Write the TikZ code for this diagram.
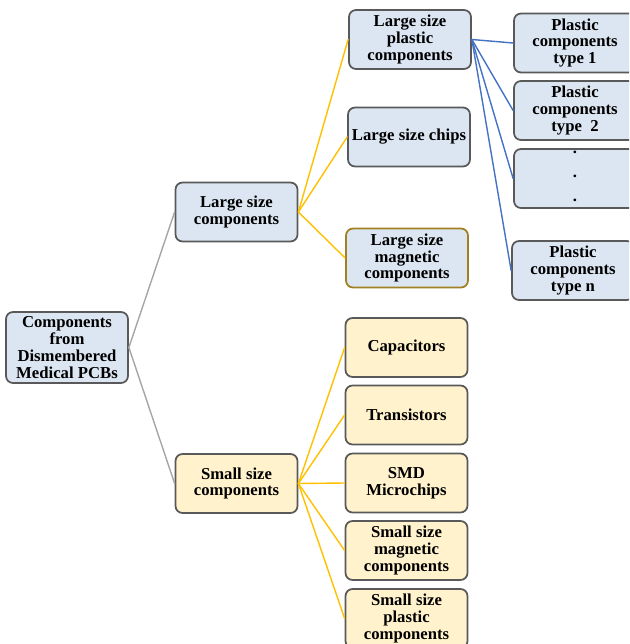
\documentclass[tikz,border=0pt]{standalone}
\usepackage{fontspec}
\setmainfont{Liberation Serif}
\usepackage{tikz}
\usetikzlibrary{positioning}
\usepackage{xcolor}
\definecolor{boxblue}{HTML}{DCE6F2}
\definecolor{boxcream}{HTML}{FFF2CC}
\definecolor{boxframe}{HTML}{595959}
\definecolor{linkgray}{HTML}{A6A6A6}
\definecolor{linkgold}{HTML}{FFC000}
\definecolor{linkblue}{HTML}{4472C4}
\definecolor{darkgold}{HTML}{A08020}
\tikzset{
  tree box/.style={draw=boxframe,line width=1pt,rounded corners=4pt,
    minimum width=2.44cm,minimum height=1.18cm,
    align=center,inner sep=1pt,
    font=\bfseries\fontsize{9.5}{9.6}\selectfont},
  large box/.style={tree box,fill=boxblue},
  small box/.style={tree box,fill=boxcream},
  gray link/.style={draw=linkgray,line width=.8pt},
  gold link/.style={draw=linkgold,line width=.8pt},
  blue link/.style={draw=linkblue,line width=.8pt}
}

\begin{document}
\begin{tikzpicture}[line cap=round,line join=round]
  \path[use as bounding box,clip] (0,0) rectangle (12.58,-12.88);

  \node[large box,minimum height=1.42cm] (root) at (1.34,-6.95)
       {Components\\from\\Dismembered\\Medical PCBs};
  \node[large box] (large) at (4.73,-4.24) {Large size\\components};
  \node[small box] (small) at (4.73,-9.67) {Small size\\components};

  % large size branch
  \node[large box] (lplastic) at (8.20,-0.79) {Large size\\plastic\\components};
  \node[large box] (lchips) at (8.18,-2.74) {Large size chips};
  \node[large box,draw=darkgold] (lmagnetic) at (8.14,-5.16) {Large size\\magnetic\\components};

  % small size branch
  \node[small box] (capacitors) at (8.13,-6.95) {Capacitors};
  \node[small box] (transistors) at (8.13,-8.30) {Transistors};
  \node[small box] (smd) at (8.13,-9.66) {SMD\\Microchips};
  \node[small box] (smagnetic) at (8.13,-11.01) {Small size\\magnetic\\components};
  \node[small box] (splastic) at (8.13,-12.37) {Small size\\plastic\\components};

  % plastic types
  \node[large box] (type1) at (11.50,-0.86) {Plastic\\components\\type 1};
  \node[large box] (type2) at (11.50,-2.21) {Plastic\\components\\type\ \ 2};
  \node[large box] (typedots) at (11.50,-3.57)
       {\raisebox{-13pt}[4pt][4pt]{\shortstack{.\\[9pt].\\[9pt].}}};
  \node[large box] (typen) at (11.46,-5.41) {Plastic\\components\\type n};

  \draw[gray link] (root.east)--(large.west) (root.east)--(small.west);
  \foreach \t in {lplastic,lchips,lmagnetic} {\draw[gold link] (large.east)--(\t.west);}
  \foreach \t in {capacitors,transistors,smd,smagnetic,splastic} {\draw[gold link] (small.east)--(\t.west);}
  \foreach \t in {type1,type2,typedots,typen} {\draw[blue link] (lplastic.east)--(\t.west);}
\end{tikzpicture}
\end{document}
